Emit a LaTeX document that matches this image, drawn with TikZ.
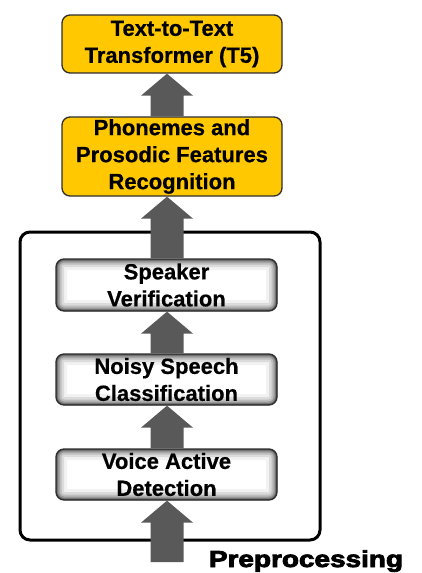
\documentclass[tikz,border=0pt]{standalone}
\usepackage{fontspec}
\usepackage{graphicx}
\setmainfont{Liberation Sans}[BoldFeatures={FakeBold=0.6}]
\newfontfamily\heavyfont{Liberation Sans}[BoldFeatures={FakeBold=3.2}]
\usetikzlibrary{calc}

\definecolor{boxyellow}{HTML}{FFC800}
\definecolor{boxedge}{HTML}{2E2E2E}
\definecolor{arrowgray}{HTML}{595959}

% upward block arrow from the top of #1 to the bottom of #2, on the common axis
\newcommand\flowarrow[2]{%
  \fill[arrowgray] let \p0=(axis), \p1=(#1), \p2=(#2) in
    (\x0-16.5pt,\y1) -- (\x0-16.5pt,\y2-22pt) -- (\x0-26pt,\y2-22pt) -- (\x0,\y2)
    -- (\x0+26pt,\y2-22pt) -- (\x0+16.5pt,\y2-22pt) -- (\x0+16.5pt,\y1) -- cycle;}

\begin{document}
\begin{tikzpicture}[x=1pt,y=-1pt,
  lbl/.style={font=\bfseries\fontsize{22}{27}\selectfont, align=center, inner sep=0pt},
  ybox/.style={lbl, draw=boxedge, line width=1.3pt, fill=boxyellow,
    rounded corners=8pt, minimum width=220pt},
  gbox/.style={lbl, draw=boxedge, line width=1.3pt, fill=white,
    rounded corners=8pt, minimum width=221pt,
    path picture={
      \foreach \w/\c in {22/5,16/14,11/26,7/40,4/54,2/66}{
        \draw[line width=\w pt, black!\c, rounded corners=8pt]
          (path picture bounding box.south west) rectangle (path picture bounding box.north east);
      }
    }},
  frame/.style={draw=black, line width=3pt, rounded corners=10pt}
]
\useasboundingbox (0,0) rectangle (421,573);

\coordinate (axis) at (167,0);

% preprocessing frame
\node[frame, minimum width=300pt, minimum height=308pt] (pre) at (170,386) {};

% processing stages
\node[ybox, minimum height=58pt] (t5) at (172,44) {Text-to-Text\\Transformer (T5)};
\node[ybox, minimum height=79pt] (pho) at (172,156.5) {Phonemes and\\Prosodic Features\\Recognition};
\node[gbox, minimum height=52pt] (spk) at (166.5,285) {Speaker\\Verification};
\node[gbox, minimum height=51pt] (noisy) at (166.5,379.5) {Noisy Speech\\Classification};
\node[gbox, minimum height=51pt] (vad) at (166.5,474.5) {Voice Active\\Detection};

\coordinate (src) at (167,562);

% connectors
\flowarrow{src}{vad.south}
\flowarrow{vad.north}{noisy.south}
\flowarrow{noisy.north}{spk.south}
\flowarrow{spk.north}{pho.south}
\flowarrow{pho.north}{t5.south}

% frame caption
\node[anchor=base, inner sep=0pt] (cap) at (306,567)
  {\heavyfont\bfseries\fontsize{22}{22}\selectfont\scalebox{1.27}[1.05]{Preprocessing}};
\end{tikzpicture}
\end{document}
